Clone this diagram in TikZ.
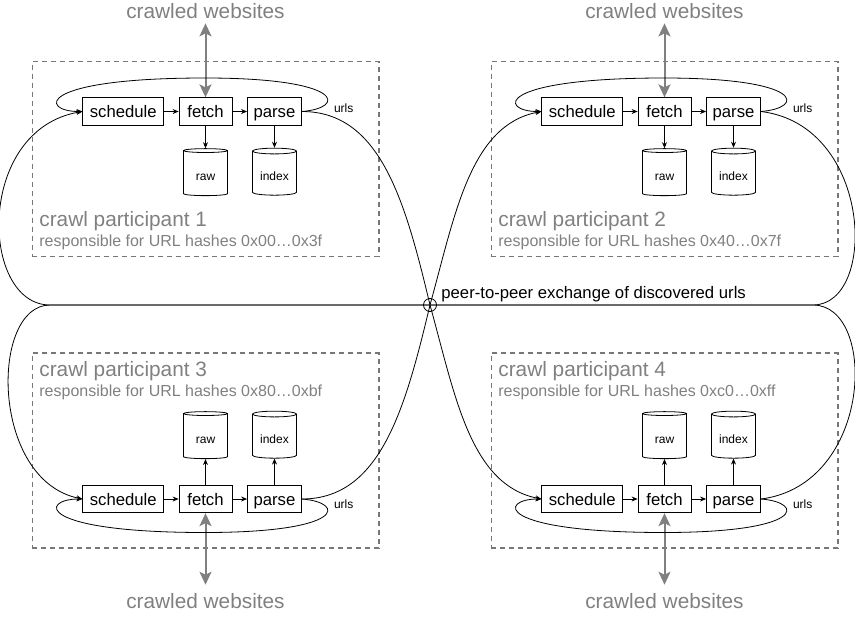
\documentclass[tikz,border=0pt]{standalone}
\usepackage{fontspec}
\setmainfont{Liberation Sans}
\usetikzlibrary{arrows.meta,shapes.geometric}

\definecolor{framegray}{HTML}{777777}
\definecolor{labelgray}{HTML}{808080}

\begin{document}
\begin{tikzpicture}[x=1pt, y=-1pt, line width=0.8pt, >={Stealth[length=6pt, width=5pt]},
        stage/.style={draw, inner sep=0pt, minimum width=#1, minimum height=27.5pt, text height=12.2pt, text depth=0pt, font=\fontsize{16.7}{20}\selectfont},
        store/.style={draw, cylinder, shape border rotate=90, aspect=0.2, minimum width=44pt, minimum height=47pt, inner sep=0pt, text height=14pt, text depth=0pt, font=\fontsize{12}{14}\selectfont},
        frame/.style={draw=framegray, dash pattern=on 5pt off 4pt, line width=1.4pt, minimum width=346.5pt, minimum height=195pt},
        title/.style={anchor=base west, inner sep=0pt, text=labelgray, font=\fontsize{20.8}{25}\selectfont},
        hashes/.style={anchor=base west, inner sep=0pt, text=labelgray, font=\fontsize{16}{19}\selectfont},
        web/.style={inner sep=0pt, text=labelgray, font=\fontsize{20.8}{25}\selectfont},
        small/.style={inner sep=0pt, font=\fontsize{12}{14}\selectfont},
        webarrow/.style={draw=labelgray, line width=2pt, {Stealth[length=13pt, width=12pt, inset=3pt]}-{Stealth[length=13pt, width=12pt, inset=3pt]}}]

        \useasboundingbox (0,0) rectangle (855,619);

        % Participant 1
        \node[frame] (frame1) at (205.7,159.2) {};
        \node[stage=81pt] (sched1) at (123.3,111.5) {schedule};
        \node[stage=53pt] (fetch1) at (205.5,111.5) {fetch};
        \node[stage=54pt] (parse1) at (274.5,111.5) {parse};
        \node[store] (raw1) at (205.5,173.3) {raw};
        \node[store] (index1) at (274.5,173.3) {index};
        \node[small] (urls1) at (343.7,108.5) {urls};
        \node[title] (name1) at (39,226.7) {crawl participant 1};
        \node[hashes] (range1) at (39,246) {responsible for URL hashes 0x00…0x3f};
        \node[web] (web1) at (205.5,11.3) {crawled websites};

        \draw[->] (sched1) -- (fetch1);
        \draw[->] (fetch1) -- (parse1);
        \draw[->] (fetch1) -- (raw1);
        \draw[->] (parse1) -- (index1);
        \draw[webarrow, shorten <=4pt] (web1) -- (fetch1);
        \draw[->] (parse1.east) .. controls (346,108) and (346,78) .. (205,78) .. controls (35,78) and (40,111.5) .. (sched1.west);

        % Participant 2
        \node[frame] (frame2) at (664.7,159.2) {};
        \node[stage=81pt] (sched2) at (582.3,111.5) {schedule};
        \node[stage=53pt] (fetch2) at (664.5,111.5) {fetch};
        \node[stage=54pt] (parse2) at (733.5,111.5) {parse};
        \node[store] (raw2) at (664.5,173.3) {raw};
        \node[store] (index2) at (733.5,173.3) {index};
        \node[small] (urls2) at (802.7,108.5) {urls};
        \node[title] (name2) at (498,226.7) {crawl participant 2};
        \node[hashes] (range2) at (498,246) {responsible for URL hashes 0x40…0x7f};
        \node[web] (web2) at (664.5,11.3) {crawled websites};

        \draw[->] (sched2) -- (fetch2);
        \draw[->] (fetch2) -- (parse2);
        \draw[->] (fetch2) -- (raw2);
        \draw[->] (parse2) -- (index2);
        \draw[webarrow, shorten <=4pt] (web2) -- (fetch2);
        \draw[->] (parse2.east) .. controls (805,108) and (805,78) .. (664,78) .. controls (494,78) and (499,111.5) .. (sched2.west);

        % Participant 3
        \node[frame] (frame3) at (205.7,450.5) {};
        \node[stage=81pt] (sched3) at (123.3,499) {schedule};
        \node[stage=53pt] (fetch3) at (205.5,499) {fetch};
        \node[stage=54pt] (parse3) at (274.5,499) {parse};
        \node[store] (raw3) at (205.5,436.3) {raw};
        \node[store] (index3) at (274.5,436.3) {index};
        \node[small] (urls3) at (343.7,504) {urls};
        \node[title] (name3) at (39,376.7) {crawl participant 3};
        \node[hashes] (range3) at (39,396.7) {responsible for URL hashes 0x80…0xbf};
        \node[web] (web3) at (205.5,600.8) {crawled websites};

        \draw[->] (sched3) -- (fetch3);
        \draw[->] (fetch3) -- (parse3);
        \draw[->] (fetch3) -- (raw3);
        \draw[->] (parse3) -- (index3);
        \draw[webarrow, shorten <=8pt] (web3) -- (fetch3);
        \draw[->] (parse3.east) .. controls (346,502.5) and (346,532.5) .. (205,532.5) .. controls (35,532.5) and (40,499) .. (sched3.west);

        % Participant 4
        \node[frame] (frame4) at (664.7,450.5) {};
        \node[stage=81pt] (sched4) at (582.3,499) {schedule};
        \node[stage=53pt] (fetch4) at (664.5,499) {fetch};
        \node[stage=54pt] (parse4) at (733.5,499) {parse};
        \node[store] (raw4) at (664.5,436.3) {raw};
        \node[store] (index4) at (733.5,436.3) {index};
        \node[small] (urls4) at (802.7,504) {urls};
        \node[title] (name4) at (498,376.7) {crawl participant 4};
        \node[hashes] (range4) at (498,396.7) {responsible for URL hashes 0xc0…0xff};
        \node[web] (web4) at (664.5,600.8) {crawled websites};

        \draw[->] (sched4) -- (fetch4);
        \draw[->] (fetch4) -- (parse4);
        \draw[->] (fetch4) -- (raw4);
        \draw[->] (parse4) -- (index4);
        \draw[webarrow, shorten <=8pt] (web4) -- (fetch4);
        \draw[->] (parse4.east) .. controls (805,502.5) and (805,532.5) .. (664,532.5) .. controls (494,532.5) and (499,499) .. (sched4.west);

        % Peer-to-peer exchange
        \node[draw, circle, minimum size=13pt, inner sep=0pt] (hub) at (430,305) {};
        \node[anchor=base west, inner sep=0pt, font=\fontsize{16.7}{20}\selectfont] (peer) at (441,298.3) {peer-to-peer exchange of discovered urls};
        \coordinate (lcusp) at (50,305);
        \coordinate (rcusp) at (813,305);

        \draw (parse1.east) .. controls (380,111.5) and (405,200) .. (hub.center);
        \draw (parse3.east) .. controls (380,499) and (405,410) .. (hub.center);
        \draw (parse2.east) .. controls (873,125) and (878,305) .. (rcusp) -- (hub.center);
        \draw (parse4.east) .. controls (873,485) and (878,305) .. (rcusp) -- (hub.center);
        \draw[->] (hub.center) .. controls (455,215) and (470,125) .. (sched2.west);
        \draw[->] (hub.center) .. controls (455,395) and (470,485) .. (sched4.west);
        \draw[->] (hub.center) -- (lcusp) .. controls (-20,305) and (-25,130) .. (sched1.west);
        \draw[->] (hub.center) -- (lcusp) .. controls (-10,305) and (-10,480) .. (sched3.west);
    \end{tikzpicture}
\end{document}
